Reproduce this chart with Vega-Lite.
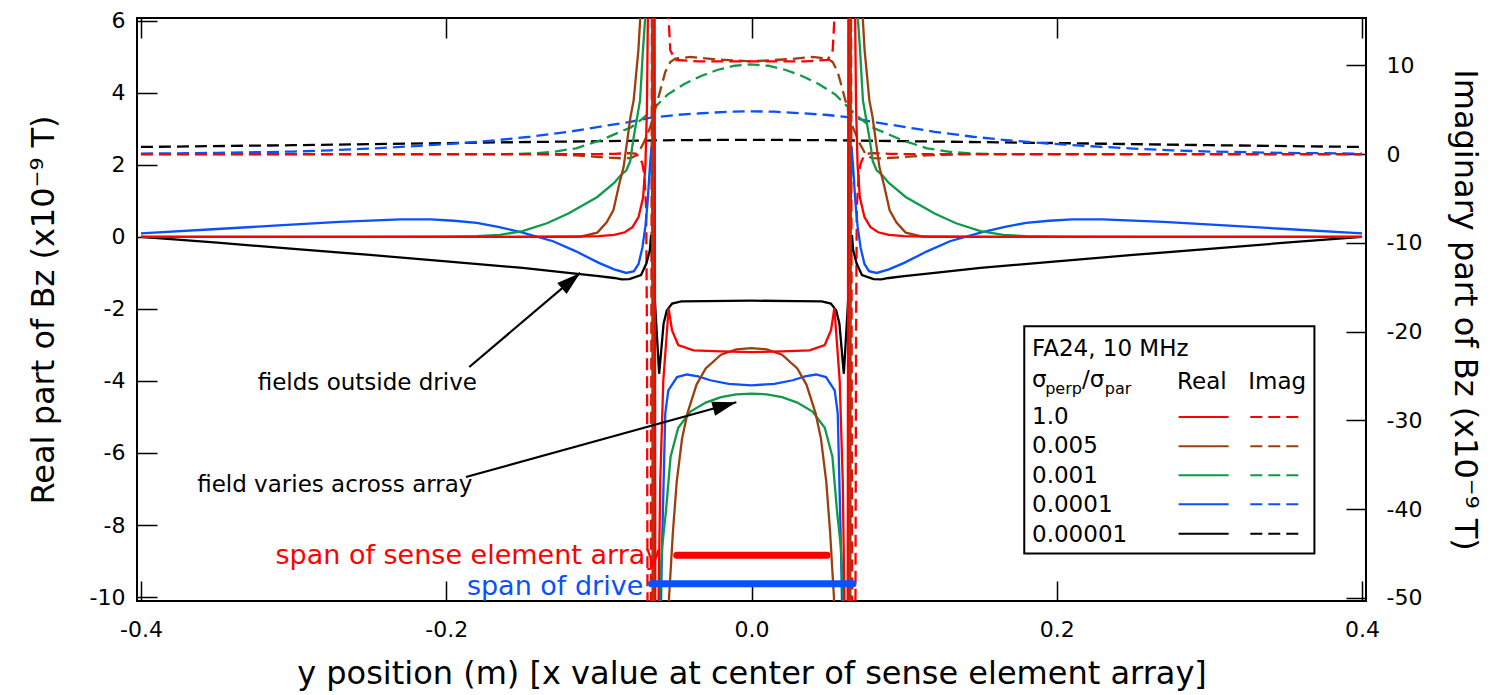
{
 "$schema": "https://vega.github.io/schema/vega-lite/v6.json",
 "width": 1229, "height": 583,
 "autosize": {"type": "none"},
 "padding": {"left": 137, "top": 18, "right": 137, "bottom": 94},
 "background": "white",
 "config": {
  "view": {"stroke": "black", "strokeWidth": 2},
  "axis": {"grid": false, "domain": false, "labelFont": "DejaVu Sans", "labelFontSize": 22, "labelColor": "black", "titleFont": "DejaVu Sans", "titleFontSize": 32, "titleFontWeight": "normal", "titleColor": "black", "tickColor": "black", "tickWidth": 1.5, "tickSize": -20, "labelFlush": false, "labelOverlap": false},
  "text": {"font": "DejaVu Sans"}
 },
 "datasets": {
  "re": [
   {"s":"0.00001","x":-0.4,"v":0},{"s":"0.00001","x":-0.35,"v":-0.16},{"s":"0.00001","x":-0.3,"v":-0.33},{"s":"0.00001","x":-0.25,"v":-0.5},{"s":"0.00001","x":-0.2,"v":-0.68},{"s":"0.00001","x":-0.15,"v":-0.86},{"s":"0.00001","x":-0.12,"v":-1.0},{"s":"0.00001","x":-0.1,"v":-1.09},{"s":"0.00001","x":-0.09,"v":-1.14},{"s":"0.00001","x":-0.085,"v":-1.18},{"s":"0.00001","x":-0.08,"v":-1.17},{"s":"0.00001","x":-0.0724,"v":-1.06},{"s":"0.00001","x":-0.0689,"v":-0.74},{"s":"0.00001","x":-0.0666,"v":-0.37},{"s":"0.00001","x":-0.0658,"v":0.05},{"s":"0.00001","x":-0.0652,"v":-0.4},{"s":"0.00001","x":-0.0605,"v":-3.8},{"s":"0.00001","x":-0.0576,"v":-2.41},{"s":"0.00001","x":-0.0555,"v":-2.04},{"s":"0.00001","x":-0.052,"v":-1.85},{"s":"0.00001","x":-0.046,"v":-1.79},{"s":"0.00001","x":-0.03,"v":-1.78},{"s":"0.00001","x":0,"v":-1.77},
   {"s":"0.00001","x":0.03,"v":-1.78},{"s":"0.00001","x":0.046,"v":-1.79},{"s":"0.00001","x":0.052,"v":-1.85},{"s":"0.00001","x":0.0555,"v":-2.04},{"s":"0.00001","x":0.0576,"v":-2.41},{"s":"0.00001","x":0.0605,"v":-3.8},{"s":"0.00001","x":0.0652,"v":-0.4},{"s":"0.00001","x":0.0658,"v":0.05},{"s":"0.00001","x":0.0666,"v":-0.37},{"s":"0.00001","x":0.0689,"v":-0.74},{"s":"0.00001","x":0.0724,"v":-1.06},{"s":"0.00001","x":0.08,"v":-1.17},{"s":"0.00001","x":0.085,"v":-1.18},{"s":"0.00001","x":0.09,"v":-1.14},{"s":"0.00001","x":0.1,"v":-1.09},{"s":"0.00001","x":0.12,"v":-1.0},{"s":"0.00001","x":0.15,"v":-0.86},{"s":"0.00001","x":0.2,"v":-0.68},{"s":"0.00001","x":0.25,"v":-0.5},{"s":"0.00001","x":0.3,"v":-0.33},{"s":"0.00001","x":0.35,"v":-0.16},{"s":"0.00001","x":0.4,"v":0},

   {"s":"0.0001","x":-0.4,"v":0.1},{"s":"0.0001","x":-0.35,"v":0.22},{"s":"0.0001","x":-0.31,"v":0.32},{"s":"0.0001","x":-0.27,"v":0.42},{"s":"0.0001","x":-0.23,"v":0.49},{"s":"0.0001","x":-0.21,"v":0.49},{"s":"0.0001","x":-0.195,"v":0.45},{"s":"0.0001","x":-0.18,"v":0.39},{"s":"0.0001","x":-0.166,"v":0.28},{"s":"0.0001","x":-0.15,"v":0.12},{"s":"0.0001","x":-0.13,"v":-0.12},{"s":"0.0001","x":-0.115,"v":-0.4},{"s":"0.0001","x":-0.1,"v":-0.72},{"s":"0.0001","x":-0.09,"v":-0.9},{"s":"0.0001","x":-0.082,"v":-1.0},{"s":"0.0001","x":-0.077,"v":-0.95},{"s":"0.0001","x":-0.074,"v":-0.75},{"s":"0.0001","x":-0.0715,"v":-0.3},{"s":"0.0001","x":-0.0695,"v":0.3},{"s":"0.0001","x":-0.068,"v":1.0},{"s":"0.0001","x":-0.0665,"v":2.0},{"s":"0.0001","x":-0.0655,"v":2.5},{"s":"0.0001","x":-0.0648,"v":0.5},{"s":"0.0001","x":-0.0642,"v":-5},{"s":"0.0001","x":-0.0635,"v":-14},{"s":"0.0001","x":-0.061,"v":-14},{"s":"0.0001","x":-0.0586,"v":-8.6},{"s":"0.0001","x":-0.0565,"v":-4.9},{"s":"0.0001","x":-0.0545,"v":-4.26},{"s":"0.0001","x":-0.0488,"v":-3.89},{"s":"0.0001","x":-0.0423,"v":-3.82},{"s":"0.0001","x":-0.035,"v":-3.87},{"s":"0.0001","x":-0.027,"v":-3.98},{"s":"0.0001","x":-0.015,"v":-4.08},{"s":"0.0001","x":0,"v":-4.12},
   {"s":"0.0001","x":0.015,"v":-4.08},{"s":"0.0001","x":0.027,"v":-3.98},{"s":"0.0001","x":0.035,"v":-3.87},{"s":"0.0001","x":0.0423,"v":-3.82},{"s":"0.0001","x":0.0488,"v":-3.89},{"s":"0.0001","x":0.0545,"v":-4.26},{"s":"0.0001","x":0.0565,"v":-4.9},{"s":"0.0001","x":0.0586,"v":-8.6},{"s":"0.0001","x":0.061,"v":-14},{"s":"0.0001","x":0.0635,"v":-14},{"s":"0.0001","x":0.0642,"v":-5},{"s":"0.0001","x":0.0648,"v":0.5},{"s":"0.0001","x":0.0655,"v":2.5},{"s":"0.0001","x":0.0665,"v":2.0},{"s":"0.0001","x":0.068,"v":1.0},{"s":"0.0001","x":0.0695,"v":0.3},{"s":"0.0001","x":0.0715,"v":-0.3},{"s":"0.0001","x":0.074,"v":-0.75},{"s":"0.0001","x":0.077,"v":-0.95},{"s":"0.0001","x":0.082,"v":-1.0},{"s":"0.0001","x":0.09,"v":-0.9},{"s":"0.0001","x":0.1,"v":-0.72},{"s":"0.0001","x":0.115,"v":-0.4},{"s":"0.0001","x":0.13,"v":-0.12},{"s":"0.0001","x":0.15,"v":0.12},{"s":"0.0001","x":0.166,"v":0.28},{"s":"0.0001","x":0.18,"v":0.39},{"s":"0.0001","x":0.195,"v":0.45},{"s":"0.0001","x":0.21,"v":0.49},{"s":"0.0001","x":0.23,"v":0.49},{"s":"0.0001","x":0.27,"v":0.42},{"s":"0.0001","x":0.31,"v":0.32},{"s":"0.0001","x":0.35,"v":0.22},{"s":"0.0001","x":0.4,"v":0.1},

   {"s":"0.001","x":-0.4,"v":0},{"s":"0.001","x":-0.25,"v":0},{"s":"0.001","x":-0.2,"v":0.005},{"s":"0.001","x":-0.18,"v":0.02},{"s":"0.001","x":-0.165,"v":0.06},{"s":"0.001","x":-0.15,"v":0.16},{"s":"0.001","x":-0.134,"v":0.38},{"s":"0.001","x":-0.12,"v":0.65},{"s":"0.001","x":-0.101,"v":1.11},{"s":"0.001","x":-0.09,"v":1.5},{"s":"0.001","x":-0.086,"v":1.7},{"s":"0.001","x":-0.082,"v":1.85},{"s":"0.001","x":-0.0795,"v":2.1},{"s":"0.001","x":-0.0775,"v":2.69},{"s":"0.001","x":-0.073,"v":3.8},{"s":"0.001","x":-0.0711,"v":5.2},{"s":"0.001","x":-0.0698,"v":6.0},{"s":"0.001","x":-0.069,"v":8},{"s":"0.001","x":-0.0682,"v":14},{"s":"0.001","x":-0.0642,"v":14},{"s":"0.001","x":-0.0637,"v":-14},{"s":"0.001","x":-0.0622,"v":-14},{"s":"0.001","x":-0.0605,"v":-10.2},{"s":"0.001","x":-0.0585,"v":-8.6},{"s":"0.001","x":-0.056,"v":-7.6},{"s":"0.001","x":-0.053,"v":-6.1},{"s":"0.001","x":-0.048,"v":-5.3},{"s":"0.001","x":-0.04,"v":-4.85},{"s":"0.001","x":-0.03,"v":-4.6},{"s":"0.001","x":-0.02,"v":-4.45},{"s":"0.001","x":-0.01,"v":-4.37},{"s":"0.001","x":0,"v":-4.35},
   {"s":"0.001","x":0.01,"v":-4.37},{"s":"0.001","x":0.02,"v":-4.45},{"s":"0.001","x":0.03,"v":-4.6},{"s":"0.001","x":0.04,"v":-4.85},{"s":"0.001","x":0.048,"v":-5.3},{"s":"0.001","x":0.053,"v":-6.1},{"s":"0.001","x":0.056,"v":-7.6},{"s":"0.001","x":0.0585,"v":-8.6},{"s":"0.001","x":0.0605,"v":-10.2},{"s":"0.001","x":0.0622,"v":-14},{"s":"0.001","x":0.0637,"v":-14},{"s":"0.001","x":0.0642,"v":14},{"s":"0.001","x":0.0682,"v":14},{"s":"0.001","x":0.069,"v":8},{"s":"0.001","x":0.0698,"v":6.0},{"s":"0.001","x":0.0711,"v":5.2},{"s":"0.001","x":0.073,"v":3.8},{"s":"0.001","x":0.0775,"v":2.69},{"s":"0.001","x":0.0795,"v":2.1},{"s":"0.001","x":0.082,"v":1.85},{"s":"0.001","x":0.086,"v":1.7},{"s":"0.001","x":0.09,"v":1.5},{"s":"0.001","x":0.101,"v":1.11},{"s":"0.001","x":0.12,"v":0.65},{"s":"0.001","x":0.134,"v":0.38},{"s":"0.001","x":0.15,"v":0.16},{"s":"0.001","x":0.165,"v":0.06},{"s":"0.001","x":0.18,"v":0.02},{"s":"0.001","x":0.2,"v":0.005},{"s":"0.001","x":0.25,"v":0},{"s":"0.001","x":0.4,"v":0},

   {"s":"0.005","x":-0.4,"v":0},{"s":"0.005","x":-0.2,"v":0},{"s":"0.005","x":-0.13,"v":0.005},{"s":"0.005","x":-0.112,"v":0.01},{"s":"0.005","x":-0.101,"v":0.12},{"s":"0.005","x":-0.095,"v":0.4},{"s":"0.005","x":-0.0905,"v":0.74},{"s":"0.005","x":-0.0865,"v":1.5},{"s":"0.005","x":-0.0838,"v":1.94},{"s":"0.005","x":-0.0793,"v":3.33},{"s":"0.005","x":-0.0772,"v":3.8},{"s":"0.005","x":-0.0741,"v":5.19},{"s":"0.005","x":-0.073,"v":6.0},{"s":"0.005","x":-0.072,"v":7.5},{"s":"0.005","x":-0.0705,"v":14},{"s":"0.005","x":-0.0652,"v":14},{"s":"0.005","x":-0.0647,"v":-14},{"s":"0.005","x":-0.0565,"v":-14},{"s":"0.005","x":-0.054,"v":-10.0},{"s":"0.005","x":-0.0515,"v":-8.2},{"s":"0.005","x":-0.049,"v":-6.8},{"s":"0.005","x":-0.0455,"v":-5.6},{"s":"0.005","x":-0.042,"v":-4.9},{"s":"0.005","x":-0.036,"v":-4.1},{"s":"0.005","x":-0.03,"v":-3.65},{"s":"0.005","x":-0.02,"v":-3.27},{"s":"0.005","x":-0.01,"v":-3.12},{"s":"0.005","x":0,"v":-3.09},
   {"s":"0.005","x":0.01,"v":-3.12},{"s":"0.005","x":0.02,"v":-3.27},{"s":"0.005","x":0.03,"v":-3.65},{"s":"0.005","x":0.036,"v":-4.1},{"s":"0.005","x":0.042,"v":-4.9},{"s":"0.005","x":0.0455,"v":-5.6},{"s":"0.005","x":0.049,"v":-6.8},{"s":"0.005","x":0.0515,"v":-8.2},{"s":"0.005","x":0.054,"v":-10.0},{"s":"0.005","x":0.0565,"v":-14},{"s":"0.005","x":0.0647,"v":-14},{"s":"0.005","x":0.0652,"v":14},{"s":"0.005","x":0.0705,"v":14},{"s":"0.005","x":0.072,"v":7.5},{"s":"0.005","x":0.073,"v":6.0},{"s":"0.005","x":0.0741,"v":5.19},{"s":"0.005","x":0.0772,"v":3.8},{"s":"0.005","x":0.0793,"v":3.33},{"s":"0.005","x":0.0838,"v":1.94},{"s":"0.005","x":0.0865,"v":1.5},{"s":"0.005","x":0.0905,"v":0.74},{"s":"0.005","x":0.095,"v":0.4},{"s":"0.005","x":0.101,"v":0.12},{"s":"0.005","x":0.112,"v":0.01},{"s":"0.005","x":0.13,"v":0.005},{"s":"0.005","x":0.2,"v":0},{"s":"0.005","x":0.4,"v":0},

   {"s":"1.0","x":-0.4,"v":0},{"s":"1.0","x":-0.3,"v":0},{"s":"1.0","x":-0.2,"v":0},{"s":"1.0","x":-0.15,"v":0},{"s":"1.0","x":-0.12,"v":0.005},{"s":"1.0","x":-0.1,"v":0.02},{"s":"1.0","x":-0.09,"v":0.06},{"s":"1.0","x":-0.083,"v":0.13},{"s":"1.0","x":-0.078,"v":0.27},{"s":"1.0","x":-0.074,"v":0.55},{"s":"1.0","x":-0.071,"v":1.1},{"s":"1.0","x":-0.0695,"v":2.0},{"s":"1.0","x":-0.0685,"v":3.6},{"s":"1.0","x":-0.0678,"v":6.5},{"s":"1.0","x":-0.067,"v":12},{"s":"1.0","x":-0.0636,"v":12},{"s":"1.0","x":-0.063,"v":-12},{"s":"1.0","x":-0.0615,"v":-12},{"s":"1.0","x":-0.0598,"v":-6.8},{"s":"1.0","x":-0.0578,"v":-4.0},{"s":"1.0","x":-0.0543,"v":-1.98},{"s":"1.0","x":-0.0521,"v":-2.59},{"s":"1.0","x":-0.048,"v":-3.0},{"s":"1.0","x":-0.038,"v":-3.15},{"s":"1.0","x":-0.02,"v":-3.18},{"s":"1.0","x":0,"v":-3.2},
   {"s":"1.0","x":0.02,"v":-3.18},{"s":"1.0","x":0.038,"v":-3.15},{"s":"1.0","x":0.048,"v":-3.0},{"s":"1.0","x":0.0521,"v":-2.59},{"s":"1.0","x":0.0543,"v":-1.98},{"s":"1.0","x":0.0578,"v":-4.0},{"s":"1.0","x":0.0598,"v":-6.8},{"s":"1.0","x":0.0615,"v":-12},{"s":"1.0","x":0.063,"v":-12},{"s":"1.0","x":0.0636,"v":12},{"s":"1.0","x":0.067,"v":12},{"s":"1.0","x":0.0678,"v":6.5},{"s":"1.0","x":0.0685,"v":3.6},{"s":"1.0","x":0.0695,"v":2.0},{"s":"1.0","x":0.071,"v":1.1},{"s":"1.0","x":0.074,"v":0.55},{"s":"1.0","x":0.078,"v":0.27},{"s":"1.0","x":0.083,"v":0.13},{"s":"1.0","x":0.09,"v":0.06},{"s":"1.0","x":0.1,"v":0.02},{"s":"1.0","x":0.12,"v":0.005},{"s":"1.0","x":0.15,"v":0},{"s":"1.0","x":0.2,"v":0},{"s":"1.0","x":0.3,"v":0},{"s":"1.0","x":0.4,"v":0}
  ],
  "im": [
   {"s":"0.00001","x":-0.4,"v":0.8},{"s":"0.00001","x":-0.3,"v":1.0},{"s":"0.00001","x":-0.2,"v":1.24},{"s":"0.00001","x":-0.1,"v":1.45},{"s":"0.00001","x":-0.05,"v":1.57},{"s":"0.00001","x":0,"v":1.6},{"s":"0.00001","x":0.05,"v":1.57},{"s":"0.00001","x":0.1,"v":1.45},{"s":"0.00001","x":0.2,"v":1.24},{"s":"0.00001","x":0.3,"v":1.0},{"s":"0.00001","x":0.4,"v":0.8},

   {"s":"0.0001","x":-0.4,"v":0.05},{"s":"0.0001","x":-0.35,"v":0.13},{"s":"0.0001","x":-0.3,"v":0.28},{"s":"0.0001","x":-0.276,"v":0.42},{"s":"0.0001","x":-0.25,"v":0.62},{"s":"0.0001","x":-0.22,"v":0.9},{"s":"0.0001","x":-0.189,"v":1.25},{"s":"0.0001","x":-0.165,"v":1.6},{"s":"0.0001","x":-0.145,"v":1.95},{"s":"0.0001","x":-0.12,"v":2.5},{"s":"0.0001","x":-0.099,"v":3.1},{"s":"0.0001","x":-0.08,"v":3.6},{"s":"0.0001","x":-0.066,"v":4.1},{"s":"0.0001","x":-0.05,"v":4.4},{"s":"0.0001","x":-0.033,"v":4.6},{"s":"0.0001","x":-0.015,"v":4.77},{"s":"0.0001","x":0,"v":4.82},
   {"s":"0.0001","x":0.015,"v":4.77},{"s":"0.0001","x":0.033,"v":4.6},{"s":"0.0001","x":0.05,"v":4.4},{"s":"0.0001","x":0.066,"v":4.1},{"s":"0.0001","x":0.08,"v":3.6},{"s":"0.0001","x":0.099,"v":3.1},{"s":"0.0001","x":0.12,"v":2.5},{"s":"0.0001","x":0.145,"v":1.95},{"s":"0.0001","x":0.165,"v":1.6},{"s":"0.0001","x":0.189,"v":1.25},{"s":"0.0001","x":0.22,"v":0.9},{"s":"0.0001","x":0.25,"v":0.62},{"s":"0.0001","x":0.276,"v":0.42},{"s":"0.0001","x":0.3,"v":0.28},{"s":"0.0001","x":0.35,"v":0.13},{"s":"0.0001","x":0.4,"v":0.05},

   {"s":"0.001","x":-0.4,"v":0},{"s":"0.001","x":-0.25,"v":0},{"s":"0.001","x":-0.16,"v":0},{"s":"0.001","x":-0.145,"v":0.06},{"s":"0.001","x":-0.13,"v":0.25},{"s":"0.001","x":-0.115,"v":0.65},{"s":"0.001","x":-0.099,"v":1.55},{"s":"0.001","x":-0.086,"v":2.5},{"s":"0.001","x":-0.079,"v":3.0},{"s":"0.001","x":-0.072,"v":3.9},{"s":"0.001","x":-0.066,"v":4.8},{"s":"0.001","x":-0.055,"v":6.7},{"s":"0.001","x":-0.044,"v":7.9},{"s":"0.001","x":-0.033,"v":8.8},{"s":"0.001","x":-0.022,"v":9.5},{"s":"0.001","x":-0.011,"v":9.95},{"s":"0.001","x":0,"v":10.1},
   {"s":"0.001","x":0.011,"v":9.95},{"s":"0.001","x":0.022,"v":9.5},{"s":"0.001","x":0.033,"v":8.8},{"s":"0.001","x":0.044,"v":7.9},{"s":"0.001","x":0.055,"v":6.7},{"s":"0.001","x":0.066,"v":4.8},{"s":"0.001","x":0.072,"v":3.9},{"s":"0.001","x":0.079,"v":3.0},{"s":"0.001","x":0.086,"v":2.5},{"s":"0.001","x":0.099,"v":1.55},{"s":"0.001","x":0.115,"v":0.65},{"s":"0.001","x":0.13,"v":0.25},{"s":"0.001","x":0.145,"v":0.06},{"s":"0.001","x":0.16,"v":0},{"s":"0.001","x":0.25,"v":0},{"s":"0.001","x":0.4,"v":0},

   {"s":"0.005","x":-0.4,"v":0},{"s":"0.005","x":-0.14,"v":0},{"s":"0.005","x":-0.115,"v":-0.15},{"s":"0.005","x":-0.1,"v":-0.33},{"s":"0.005","x":-0.085,"v":-0.48},{"s":"0.005","x":-0.079,"v":-0.45},{"s":"0.005","x":-0.075,"v":-0.1},{"s":"0.005","x":-0.0709,"v":1.18},{"s":"0.005","x":-0.0663,"v":3.05},{"s":"0.005","x":-0.0609,"v":6.43},{"s":"0.005","x":-0.0565,"v":9.25},{"s":"0.005","x":-0.0532,"v":10.37},{"s":"0.005","x":-0.0499,"v":10.75},{"s":"0.005","x":-0.04,"v":10.94},{"s":"0.005","x":-0.025,"v":10.7},{"s":"0.005","x":-0.0117,"v":10.56},{"s":"0.005","x":0,"v":10.45},
   {"s":"0.005","x":0.0117,"v":10.56},{"s":"0.005","x":0.025,"v":10.7},{"s":"0.005","x":0.04,"v":10.94},{"s":"0.005","x":0.0499,"v":10.75},{"s":"0.005","x":0.0532,"v":10.37},{"s":"0.005","x":0.0565,"v":9.25},{"s":"0.005","x":0.0609,"v":6.43},{"s":"0.005","x":0.0663,"v":3.05},{"s":"0.005","x":0.0709,"v":1.18},{"s":"0.005","x":0.075,"v":-0.1},{"s":"0.005","x":0.079,"v":-0.45},{"s":"0.005","x":0.085,"v":-0.48},{"s":"0.005","x":0.1,"v":-0.33},{"s":"0.005","x":0.115,"v":-0.15},{"s":"0.005","x":0.14,"v":0},{"s":"0.005","x":0.4,"v":0},

   {"s":"1.0","x":-0.4,"v":0},{"s":"1.0","x":-0.1,"v":0},{"s":"1.0","x":-0.09,"v":0.03},{"s":"1.0","x":-0.08,"v":0.1},{"s":"1.0","x":-0.076,"v":0.05},{"s":"1.0","x":-0.0735,"v":-0.3},{"s":"1.0","x":-0.0716,"v":-1.0},{"s":"1.0","x":-0.0703,"v":-2.2},{"s":"1.0","x":-0.069,"v":-6},{"s":"1.0","x":-0.0685,"v":-20},{"s":"1.0","x":-0.068,"v":-60},{"s":"1.0","x":-0.066,"v":-60},{"s":"1.0","x":-0.065,"v":40},{"s":"1.0","x":-0.0565,"v":40},{"s":"1.0","x":-0.0558,"v":20},{"s":"1.0","x":-0.0532,"v":11.7},{"s":"1.0","x":-0.0499,"v":10.6},{"s":"1.0","x":-0.035,"v":10.45},{"s":"1.0","x":0,"v":10.45},
   {"s":"1.0","x":0.035,"v":10.45},{"s":"1.0","x":0.0499,"v":10.6},{"s":"1.0","x":0.0532,"v":11.7},{"s":"1.0","x":0.0558,"v":20},{"s":"1.0","x":0.0565,"v":40},{"s":"1.0","x":0.065,"v":40},{"s":"1.0","x":0.066,"v":-60},{"s":"1.0","x":0.068,"v":-60},{"s":"1.0","x":0.0685,"v":-20},{"s":"1.0","x":0.069,"v":-6},{"s":"1.0","x":0.0703,"v":-2.2},{"s":"1.0","x":0.0716,"v":-1.0},{"s":"1.0","x":0.0735,"v":-0.3},{"s":"1.0","x":0.076,"v":0.05},{"s":"1.0","x":0.08,"v":0.1},{"s":"1.0","x":0.09,"v":0.03},{"s":"1.0","x":0.1,"v":0},{"s":"1.0","x":0.4,"v":0}
  ],
  "legtext": [
   {"t":"FA24, 10 MHz","x":0.1838,"y":-3.314},
   {"t":"σ","x":0.1838,"y":-4.167},
   {"t":"/σ","x":0.2166,"y":-4.167},
   {"t":"Real","x":0.2788,"y":-4.211},
   {"t":"Imag","x":0.3255,"y":-4.211},
   {"t":"1.0","x":0.1838,"y":-5.183},
   {"t":"0.005","x":0.1838,"y":-6.0},
   {"t":"0.001","x":0.1838,"y":-6.822},
   {"t":"0.0001","x":0.1838,"y":-7.639},
   {"t":"0.00001","x":0.1838,"y":-8.472}
  ],
  "legsub": [
   {"t":"perp","x":0.1924,"y":-4.369},
   {"t":"par","x":0.2315,"y":-4.369}
  ],
  "legline": [
   {"s":"1.0","y":-5.0},
   {"s":"0.005","y":-5.814},
   {"s":"0.001","y":-6.619},
   {"s":"0.0001","y":-7.425},
   {"s":"0.00001","y":-8.239}
  ]
 },
 "layer": [
  {
   "data": {"name": "im"},
   "mark": {"type": "line", "strokeDash": [12, 6], "strokeWidth": 2.3, "clip": true},
   "encoding": {
    "x": {"field": "x", "type": "quantitative", "scale": {"domain": [-0.4026, 0.4026], "nice": false, "zero": false},
          "axis": {"orient": "top", "values": [-0.4, -0.2, 0, 0.2, 0.4], "labels": false, "title": null}},
    "y": {"field": "v", "type": "quantitative", "scale": {"domain": [-50.36, 15.33], "nice": false, "zero": false},
          "axis": {"orient": "right", "values": [-50, -40, -30, -20, -10, 0, 10], "title": "Imaginary part of Bz (x10⁻⁹ T)", "labelAlign": "left", "labelPadding": 40, "titlePadding": 26,
                   "labelExpr": "(datum.value < 0 ? '-' : '\u00a0') + format(abs(datum.value), 'd')"}},
    "color": {"field": "s", "type": "nominal", "scale": {"domain": ["1.0", "0.005", "0.001", "0.0001", "0.00001"], "range": ["#ff0000", "#9c3f0e", "#0e9a48", "#0a50ff", "#000000"]}, "legend": null}
   }
  },
  {
   "data": {"name": "re"},
   "mark": {"type": "line", "strokeWidth": 2.3, "clip": true},
   "encoding": {
    "x": {"field": "x", "type": "quantitative", "scale": {"domain": [-0.4026, 0.4026], "nice": false, "zero": false},
          "axis": {"orient": "bottom", "values": [-0.4, -0.2, 0, 0.2, 0.4], "labelPadding": 38, "titlePadding": 18,
                   "labelExpr": "(datum.value < 0 ? '-' : '') + format(abs(datum.value), '.1f')",
                   "title": "y position (m) [x value at center of sense element array]"}},
    "y": {"field": "v", "type": "quantitative", "scale": {"domain": [-10.11, 6.08], "nice": false, "zero": false},
          "axis": {"orient": "left", "values": [-10, -8, -6, -4, -2, 0, 2, 4, 6], "labelPadding": 32, "titlePadding": 29,
                   "labelExpr": "(datum.value < 0 ? '-' : '') + format(abs(datum.value), 'd')",
                   "title": "Real part of Bz (x10⁻⁹ T)"}},
    "color": {"field": "s", "type": "nominal", "legend": null}
   }
  },
  {
   "data": {"values": [{}]},
   "mark": {"type": "rect", "fill": "white", "stroke": "black", "strokeWidth": 2},
   "encoding": {
    "x": {"datum": 0.1787, "type": "quantitative", "axis": null},
    "x2": {"datum": 0.3688},
    "y": {"datum": -2.48, "type": "quantitative", "scale": {"domain": [-10.11, 6.08], "nice": false, "zero": false}, "axis": null},
    "y2": {"datum": -8.79}
   }
  },
  {
   "data": {"name": "legtext"},
   "mark": {"type": "text", "align": "left", "baseline": "alphabetic", "fontSize": 23, "color": "black"},
   "encoding": {
    "x": {"field": "x", "type": "quantitative", "axis": null},
    "y": {"field": "y", "type": "quantitative", "scale": {"domain": [-10.11, 6.08], "nice": false, "zero": false}, "axis": null},
    "text": {"field": "t"}
   }
  },
  {
   "data": {"name": "legsub"},
   "mark": {"type": "text", "align": "left", "baseline": "alphabetic", "fontSize": 16, "color": "black"},
   "encoding": {
    "x": {"field": "x", "type": "quantitative", "axis": null},
    "y": {"field": "y", "type": "quantitative", "scale": {"domain": [-10.11, 6.08], "nice": false, "zero": false}, "axis": null},
    "text": {"field": "t"}
   }
  },
  {
   "data": {"name": "legline"},
   "mark": {"type": "rule", "strokeWidth": 2},
   "encoding": {
    "x": {"datum": 0.2798, "type": "quantitative", "axis": null},
    "x2": {"datum": 0.3126},
    "y": {"field": "y", "type": "quantitative", "scale": {"domain": [-10.11, 6.08], "nice": false, "zero": false}, "axis": null},
    "color": {"field": "s", "type": "nominal", "legend": null}
   }
  },
  {
   "data": {"name": "legline"},
   "mark": {"type": "rule", "strokeWidth": 2, "strokeDash": [12, 6]},
   "encoding": {
    "x": {"datum": 0.3268, "type": "quantitative", "axis": null},
    "x2": {"datum": 0.3591},
    "y": {"field": "y", "type": "quantitative", "scale": {"domain": [-10.11, 6.08], "nice": false, "zero": false}, "axis": null},
    "color": {"field": "s", "type": "nominal", "legend": null}
   }
  },
  {
   "data": {"values": [
    {"x": -0.1849, "y": -3.611, "x2": -0.1122, "y2": -1.0},
    {"x": -0.1871, "y": -6.667, "x2": -0.00996, "y2": -4.592}
   ]},
   "mark": {"type": "rule", "strokeWidth": 2.2, "color": "black"},
   "encoding": {
    "x": {"field": "x", "type": "quantitative", "axis": null},
    "y": {"field": "y", "type": "quantitative", "scale": {"domain": [-10.11, 6.08], "nice": false, "zero": false}, "axis": null},
    "x2": {"field": "x2"},
    "y2": {"field": "y2"}
   }
  },
  {
   "data": {"values": [{"x": -0.1122, "y": -1.0}]},
   "mark": {"type": "point", "shape": "M0,0L-0.6,2L0.6,2Z", "size": 576, "filled": true, "color": "black", "opacity": 1, "angle": 49.7},
   "encoding": {
    "x": {"field": "x", "type": "quantitative", "axis": null},
    "y": {"field": "y", "type": "quantitative", "scale": {"domain": [-10.11, 6.08], "nice": false, "zero": false}, "axis": null}
   }
  },
  {
   "data": {"values": [{"x": -0.00996, "y": -4.592}]},
   "mark": {"type": "point", "shape": "M0,0L-0.6,2L0.6,2Z", "size": 576, "filled": true, "color": "black", "opacity": 1, "angle": 74.5},
   "encoding": {
    "x": {"field": "x", "type": "quantitative", "axis": null},
    "y": {"field": "y", "type": "quantitative", "scale": {"domain": [-10.11, 6.08], "nice": false, "zero": false}, "axis": null}
   }
  },
  {
   "data": {"values": [
    {"t": "fields outside drive", "x": -0.2517, "y": -4.258},
    {"t": "field varies across array", "x": -0.273, "y": -7.083}
   ]},
   "mark": {"type": "text", "align": "center", "baseline": "alphabetic", "fontSize": 23, "color": "black"},
   "encoding": {
    "x": {"field": "x", "type": "quantitative", "axis": null},
    "y": {"field": "y", "type": "quantitative", "scale": {"domain": [-10.11, 6.08], "nice": false, "zero": false}, "axis": null},
    "text": {"field": "t"}
   }
  },
  {
   "data": {"values": [{"x": -0.049, "x2": 0.0495, "y": -8.842}]},
   "mark": {"type": "rule", "strokeWidth": 7, "strokeCap": "round", "color": "#ff0000"},
   "encoding": {
    "x": {"field": "x", "type": "quantitative", "axis": null},
    "x2": {"field": "x2"},
    "y": {"field": "y", "type": "quantitative", "scale": {"domain": [-10.11, 6.08], "nice": false, "zero": false}, "axis": null}
   }
  },
  {
   "data": {"values": [{"x": -0.0655, "x2": 0.0665, "y": -9.628}]},
   "mark": {"type": "rule", "strokeWidth": 7, "strokeCap": "round", "color": "#0a50ff"},
   "encoding": {
    "x": {"field": "x", "type": "quantitative", "axis": null},
    "x2": {"field": "x2"},
    "y": {"field": "y", "type": "quantitative", "scale": {"domain": [-10.11, 6.08], "nice": false, "zero": false}, "axis": null}
   }
  },
  {
   "data": {"values": [{"t": "span of sense element array", "x": -0.0591, "y": -9.07}]},
   "mark": {"type": "text", "align": "right", "baseline": "alphabetic", "fontSize": 27, "color": "#ff0000"},
   "encoding": {
    "x": {"field": "x", "type": "quantitative", "axis": null},
    "y": {"field": "y", "type": "quantitative", "scale": {"domain": [-10.11, 6.08], "nice": false, "zero": false}, "axis": null},
    "text": {"field": "t"}
   }
  },
  {
   "data": {"values": [{"t": "span of drive", "x": -0.0709, "y": -9.94}]},
   "mark": {"type": "text", "align": "right", "baseline": "alphabetic", "fontSize": 27, "color": "#0a50ff"},
   "encoding": {
    "x": {"field": "x", "type": "quantitative", "axis": null},
    "y": {"field": "y", "type": "quantitative", "scale": {"domain": [-10.11, 6.08], "nice": false, "zero": false}, "axis": null},
    "text": {"field": "t"}
   }
  }
 ],
 "resolve": {"scale": {"y": "independent"}, "axis": {"x": "independent", "y": "independent"}}
}
